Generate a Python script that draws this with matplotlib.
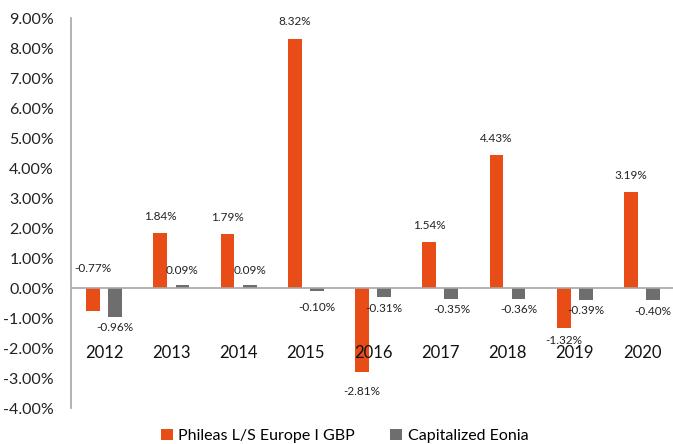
import matplotlib.pyplot as plt
import numpy as np

years = ["2012", "2013", "2014", "2015", "2016", "2017", "2018", "2019", "2020"]
phileas = [-0.77, 1.84, 1.79, 8.32, -2.81, 1.54, 4.43, -1.32, 3.19]
eonia = [-0.96, 0.09, 0.09, -0.10, -0.31, -0.35, -0.36, -0.39, -0.40]
yticks = np.arange(-4, 10, 1)

orange = "#E84D17"
grey = "#6E6E6E"
axis_grey = "#A6A6A6"

plt.rcParams['font.family'] = ['Lato', 'DejaVu Sans']

fig = plt.figure(figsize=(6.73, 4.44), dpi=100)
ax = fig.add_axes([0.1048, 0.081, 0.899, 0.878])

x = np.arange(len(years))
w = 0.205
off = 0.165
b1 = ax.bar(x - off, phileas, w, color=orange, label="Phileas L/S Europe I GBP", zorder=2)
b2 = ax.bar(x + off, eonia, w, color=grey, label="Capitalized Eonia", zorder=2)

ax.set_xlim(-0.5, len(years) - 0.5)
ax.set_ylim(-4, 9)
ax.set_yticks(yticks)
ax.set_yticklabels([f"{v:.2f}%" for v in yticks], fontsize=11.5, color="#222222")
ax.tick_params(axis='y', length=0, pad=12)
ax.set_xticks([])

for s in ["top", "right", "bottom"]:
    ax.spines[s].set_visible(False)
ax.spines["left"].set_color(axis_grey)
ax.spines["left"].set_linewidth(1.2)
ax.axhline(0, color=axis_grey, lw=1.2, zorder=3)

# year labels sit at a fixed level below the zero line
for i, yr in enumerate(years):
    ax.text(i, -2.17, yr, ha="center", va="center", fontsize=12, color="#111111", zorder=4)

def label(xpos, val, dy):
    ax.annotate(f"{val:.2f}%", (xpos, val), xytext=(0, dy), textcoords="offset points",
                ha="center", va="center", fontsize=8.5, color="#222222", zorder=4)

for i, v in enumerate(phileas):
    if i == 0:
        ax.annotate(f"{v:.2f}%", (x[i] - off, 0), xytext=(0, 14), textcoords="offset points",
                    ha="center", va="center", fontsize=8.5, color="#222222")
    elif v >= 0:
        label(x[i] - off, v, 12)
    else:
        label(x[i] - off, v, -9 if v > -2 else -13.5)

for i, v in enumerate(eonia):
    if v >= 0:
        label(x[i] + off, v, 11)
    else:
        label(x[i] + off, v, -12 if v > -0.2 else -8)

leg = fig.legend(handles=[b1, b2], loc="lower center", bbox_to_anchor=(0.512, -0.03), ncol=2,
                 frameon=False, fontsize=11.5, handlelength=0.75, handleheight=0.75,
                 handletextpad=0.35, columnspacing=2.2)

fig.savefig("out.png", dpi=100)
